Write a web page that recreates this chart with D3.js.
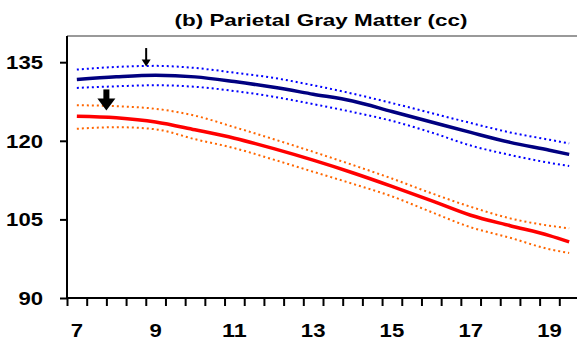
<!DOCTYPE html>
<html>
<head>
<meta charset="utf-8">
<script src="https://cdn.jsdelivr.net/npm/d3@7"></script>
<style>
  body { margin: 0; background: #fff; }
  text { font-family: "Liberation Sans", Arial, sans-serif; font-weight: bold; fill: #000; }
</style>
</head>
<body>
<div id="chart"></div>
<script>
// ages (years)
var ages = [7, 8, 9, 10, 11, 12, 13, 14, 15, 16, 17, 18, 19, 19.5];
// group 1 (blue): fit and confidence band
var blueMid = [131.7, 132.2, 132.5, 132.2, 131.3, 130.2, 128.9, 127.6, 125.6, 123.6, 121.6, 119.7, 118.2, 117.4];
var blueUp  = [133.6, 134.1, 134.3, 133.9, 133.0, 132.0, 130.6, 129.0, 127.2, 125.3, 123.4, 121.6, 120.2, 119.5];
var blueLow = [130.1, 130.4, 130.6, 130.3, 129.5, 128.4, 127.0, 125.5, 123.8, 121.6, 119.1, 117.3, 115.8, 115.2];
// group 2 (red): fit and confidence band
var redMid  = [124.7, 124.4, 123.6, 122.1, 120.5, 118.5, 116.3, 113.9, 111.3, 108.6, 105.8, 103.8, 101.9, 100.7];
var redUp   = [126.8, 126.6, 126.1, 124.8, 122.6, 120.3, 117.9, 115.4, 112.8, 110.0, 107.4, 105.2, 103.8, 103.3];
var redLow  = [122.3, 122.6, 122.2, 120.3, 118.6, 116.4, 114.1, 111.8, 109.4, 106.4, 103.5, 101.5, 99.3, 98.6];

var yTicks = [90, 105, 120, 135];
var xLabels = [7, 9, 11, 13, 15, 17, 19];
var xTicks = d3.range(6.75, 19.8, 0.5);

// arrows: [age, top value, tip value, big?]
var arrows = [[8.76, 137.7, 134.2, false], [7.75, 129.8, 125.8, true]];

var W = 577, H = 341;
var margin = {top: 36, left: 67, bottom: 43};
var digitW = 12.3;

var svg = d3.select("#chart").append("svg")
    .attr("width", W).attr("height", H);

var x = d3.scaleLinear().domain([6.75, 19.75]).range([margin.left, margin.left + 512]);
var y = d3.scaleLinear().domain([90, 140]).range([H - margin.bottom, margin.top]);

// title
svg.append("text")
    .attr("x", 321).attr("y", 26)
    .attr("text-anchor", "middle")
    .style("font-size", "17px")
    .attr("textLength", 293)
    .attr("lengthAdjust", "spacingAndGlyphs")
    .text("(b) Parietal Gray Matter (cc)");

// plot-area top border
svg.append("line")
    .attr("x1", x(6.75)).attr("x2", W)
    .attr("y1", y(140)).attr("y2", y(140))
    .attr("stroke", "#777").attr("stroke-width", 1.5);

// y axis
var yAxis = svg.append("g")
    .attr("transform", "translate(" + x(6.75) + ",0)")
    .call(d3.axisLeft(y).tickValues(yTicks).tickSize(7).tickPadding(17));
yAxis.select(".domain").attr("stroke-width", 2).attr("d", "M0," + y(90) + "V" + y(140));
yAxis.selectAll(".tick line").attr("stroke-width", 2);
yAxis.selectAll("text").style("font-size", "18px").attr("font-family", null)
    .attr("dy", "0.36em")
    .attr("textLength", function(d) { return String(d).length * digitW; })
    .attr("lengthAdjust", "spacingAndGlyphs");

// x axis (ticks between categories, labels at categories)
var xAxis = svg.append("g")
    .attr("transform", "translate(0," + y(90) + ")")
    .call(d3.axisBottom(x).tickValues(xTicks).tickSize(8).tickFormat(""));
xAxis.select(".domain").attr("stroke-width", 2).attr("d", "M" + x(6.75) + ",0H" + W);
xAxis.selectAll(".tick line").attr("stroke-width", 2);

svg.append("g").selectAll("text")
    .data(xLabels).enter().append("text")
    .attr("x", function(d) { return x(d); })
    .attr("y", y(90) + 39)
    .attr("text-anchor", "middle")
    .style("font-size", "18px")
    .attr("textLength", function(d) { return String(d).length * digitW; })
    .attr("lengthAdjust", "spacingAndGlyphs")
    .text(function(d) { return d; });

// lines
var line = d3.line()
    .x(function(d) { return x(d[0]); })
    .y(function(d) { return y(d[1]); })
    .curve(d3.curveMonotoneX);

var series = [
  {vals: blueUp,  color: "#0000ff", w: 2, dash: "2,3"},
  {vals: blueLow, color: "#0000ff", w: 2, dash: "2,3"},
  {vals: redUp,   color: "#ff6600", w: 2, dash: "2,3"},
  {vals: redLow,  color: "#ff6600", w: 2, dash: "2,3"},
  {vals: blueMid, color: "#000080", w: 3.5, dash: null},
  {vals: redMid,  color: "#ff0000", w: 3.5, dash: null}
];

svg.append("g").selectAll("path")
    .data(series).enter().append("path")
    .attr("d", function(s) { return line(ages.map(function(a, i) { return [a, s.vals[i]]; })); })
    .attr("fill", "none")
    .attr("stroke", function(s) { return s.color; })
    .attr("stroke-width", function(s) { return s.w; })
    .attr("stroke-dasharray", function(s) { return s.dash; });

// arrows
arrows.forEach(function(a) {
  var cx = x(a[0]), y0 = y(a[1]), y1 = y(a[2]);
  var hw = a[3] ? 9 : 4.5, hh = a[3] ? 12 : 7, sw = a[3] ? 6 : 2;
  svg.append("rect")
      .attr("x", cx - sw / 2).attr("y", y0)
      .attr("width", sw).attr("height", y1 - y0 - hh + 1)
      .attr("fill", "#000");
  svg.append("path")
      .attr("d", "M" + (cx - hw) + "," + (y1 - hh) + "L" + (cx + hw) + "," + (y1 - hh) + "L" + cx + "," + y1 + "Z")
      .attr("fill", "#000");
});
</script>
</body>
</html>
